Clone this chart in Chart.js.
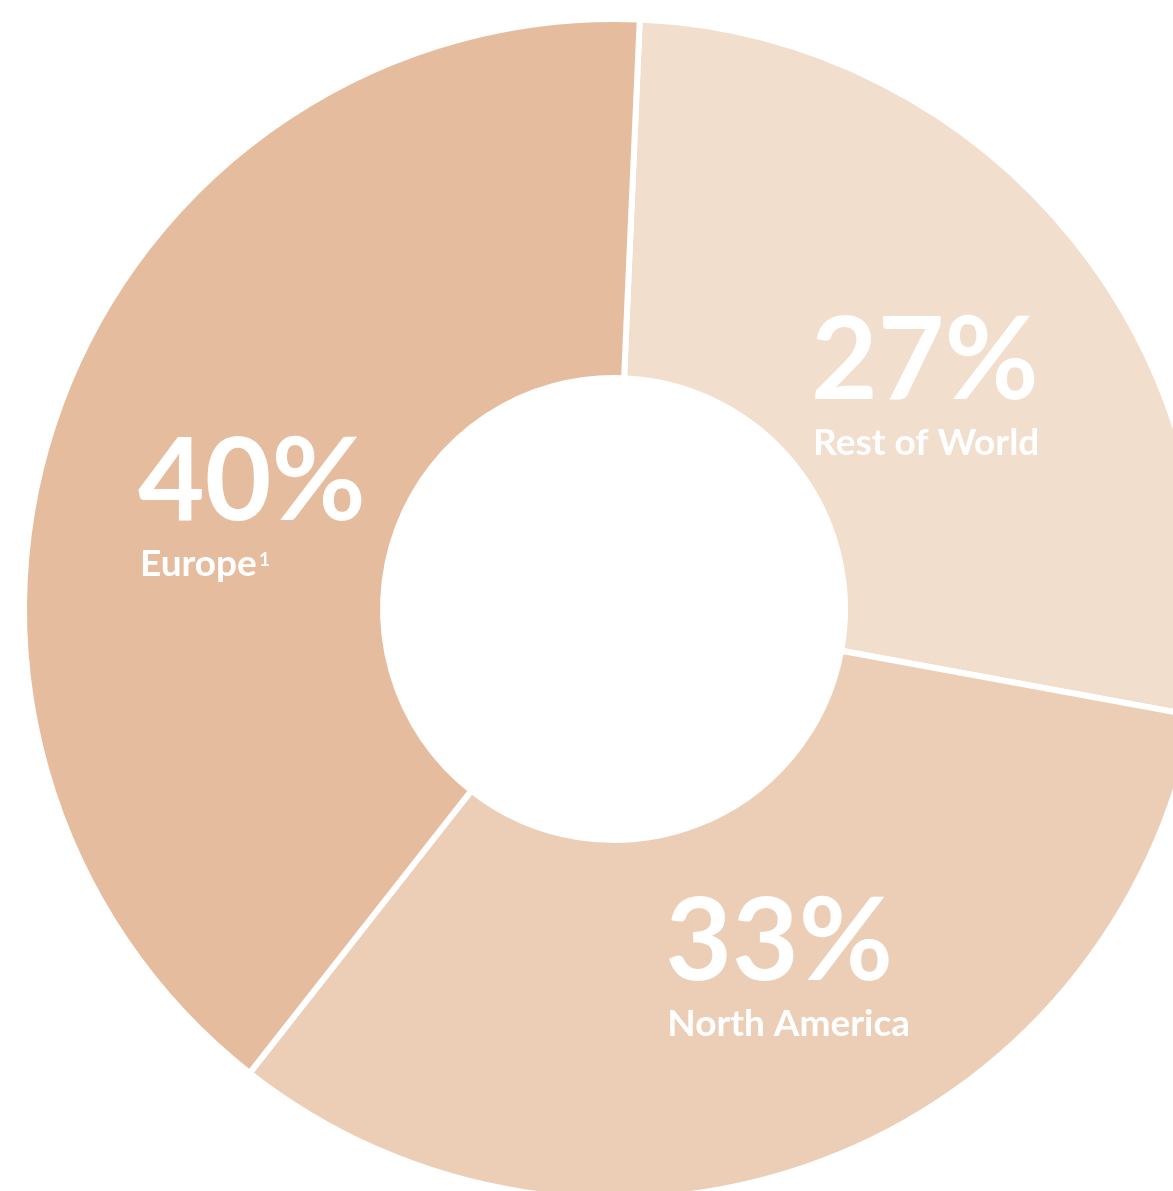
<!DOCTYPE html>
<html>
<head>
<meta charset="utf-8">
<script src="https://cdn.jsdelivr.net/npm/chart.js@4.4.1/dist/chart.umd.min.js"></script>
<style>
  html, body { margin: 0; padding: 0; background: #ffffff; overflow: hidden; }
  #wrap { position: relative; width: 1173px; height: 1191px; }
</style>
</head>
<body>
<div id="wrap"><canvas id="c" width="1173" height="1191"></canvas></div>
<script>
// ---- data ----
const categories = ['Rest of World', 'North America', 'Europe'];
const shares = [27.2, 32.7, 40.1];          // slice sizes
const shareLabels = ['27%', '33%', '40%'];   // printed labels
const footnoteMarks = ['', '', '1'];
const sliceColors = ['#F2DECD', '#ECCEB6', '#E6BC9E'];

// label placement relative to each slice's centroid (styling only)
const labelShift = [[-122, 46], [-92, -13], [-89, 54]];

const labelPlugin = {
  id: 'sliceLabels',
  afterDatasetsDraw(chart) {
    const ctx = chart.ctx;
    const meta = chart.getDatasetMeta(0);
    meta.data.forEach((arc, i) => {
      const p = arc.getProps(['x', 'y', 'startAngle', 'endAngle', 'innerRadius', 'outerRadius'], true);
      const mid = (p.startAngle + p.endAngle) / 2;
      const r = (p.innerRadius + p.outerRadius) / 2;
      const cx = p.x + Math.cos(mid) * r + labelShift[i][0];
      const cy = p.y + Math.sin(mid) * r + labelShift[i][1];
      ctx.save();
      ctx.fillStyle = '#ffffff';
      ctx.textAlign = 'left';
      ctx.textBaseline = 'alphabetic';
      ctx.font = 'bold 115px Lato, "Open Sans", sans-serif';
      ctx.fillText(shareLabels[i], cx - 2, cy);
      ctx.font = 'bold 37px Lato, "Open Sans", sans-serif';
      ctx.fillText(categories[i], cx, cy + 56);
      if (footnoteMarks[i]) {
        const w = ctx.measureText(categories[i]).width;
        ctx.font = 'bold 19px Lato, "Open Sans", sans-serif';
        ctx.fillText(footnoteMarks[i], cx + w + 2, cy + 46);
      }
      ctx.restore();
    });
  }
};

function build() {
  new Chart(document.getElementById('c'), {
    type: 'doughnut',
    data: {
      labels: categories,
      datasets: [{
        data: shares,
        backgroundColor: sliceColors,
        hoverBackgroundColor: sliceColors,
        borderColor: '#ffffff',
        hoverBorderColor: '#ffffff',
        borderWidth: 6,
        hoverBorderWidth: 6,
        hoverOffset: 0
      }]
    },
    options: {
      responsive: false,
      animation: false,
      events: [],
      rotation: 2.5,
      radius: 590,
      cutout: '39.15%',
      layout: { padding: { left: 55, top: 27, right: 0, bottom: 0 } },
      plugins: {
        legend: { display: false },
        tooltip: { enabled: false }
      }
    },
    plugins: [labelPlugin]
  });
}

if (document.fonts && document.fonts.load) {
  Promise.all([
    document.fonts.load('bold 115px Lato'),
    document.fonts.load('bold 37px Lato')
  ]).then(build, build);
} else {
  build();
}
</script>
</body>
</html>
